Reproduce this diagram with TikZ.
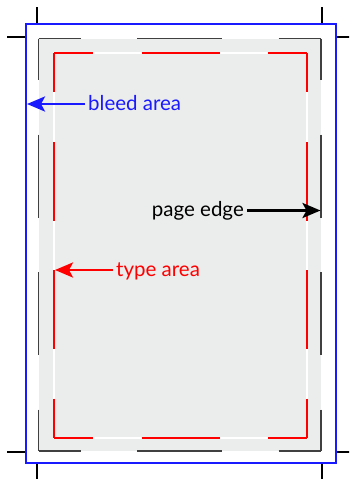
\documentclass[tikz,border=0pt]{standalone}
\usepackage{fontspec}
\setmainfont{Lato}
\usetikzlibrary{arrows.meta}
\definecolor{paper}{HTML}{EBECEC}
\definecolor{bleedblue}{HTML}{1A1AFF}
\tikzset{
  crop/.style={line width=2.5pt},
  edgeline/.style={draw=black!75, line width=1.5pt},
  typeline/.style={draw=red, line width=1.5pt},
  note/.style={font=\fontsize{20.5}{24}\selectfont, inner sep=3pt, text height=15pt, text depth=3pt},
  pointer/.style={line width=2.8pt, -{Stealth[length=18pt,width=15pt,inset=4pt]}}
}
\begin{document}
\begin{tikzpicture}[x=1pt,y=-1pt]
\useasboundingbox (0,0) rectangle (349,479);
\clip (0,0) rectangle (349,479);

% crop marks
\foreach \x in {37,322} {
  \draw[crop] (\x,7) -- (\x,24);
  \draw[crop] (\x,463) -- (\x,484);
}
\foreach \y in {37,452} {
  \draw[crop] (7,\y) -- (26,\y);
  \draw[crop] (336,\y) -- (356,\y);
}

% bleed
\draw[bleedblue, line width=1.5pt] (26,24) rectangle (336,463);

% page
\fill[paper] (38.5,38.5) rectangle (321,451);
\draw[edgeline, dash pattern=on 85pt off 56.25pt, dash phase=42.5pt] (38.5,38.5) -- (321,38.5);
\draw[edgeline, dash pattern=on 85pt off 56.25pt, dash phase=42.5pt] (38.5,451) -- (321,451);
\draw[edgeline, dash pattern=on 83pt off 54.5pt, dash phase=41.5pt] (38.5,38.5) -- (38.5,451);
\draw[edgeline, dash pattern=on 83pt off 54.5pt, dash phase=41.5pt] (321,38.5) -- (321,451);

% type area
\draw[white, line width=1.5pt] (54,53) rectangle (307,438);
\draw[typeline, dash pattern=on 78pt off 48.5pt, dash phase=39pt] (54,53) -- (307,53);
\draw[typeline, dash pattern=on 78pt off 48.5pt, dash phase=39pt] (54,438) -- (307,438);
\draw[typeline, dash pattern=on 78.5pt off 49.8pt, dash phase=39.25pt] (54,53) -- (54,438);
\draw[typeline, dash pattern=on 78.5pt off 49.8pt, dash phase=39.25pt] (307,53) -- (307,438);

% labels
\node[note, text=bleedblue, anchor=west] (bleed) at (85,104) {bleed area};
\coordinate (bleededge) at (27,104);
\draw[pointer, bleedblue] (bleed) -- (bleededge);

\node[note, anchor=east] (edge) at (247,210.5) {page edge};
\coordinate (pageedge) at (320.5,210.5);
\draw[pointer] (edge) -- (pageedge);

\node[note, text=red, anchor=west] (type) at (113,270) {type area};
\coordinate (typeedge) at (55,270);
\draw[pointer, red] (type) -- (typeedge);
\end{tikzpicture}
\end{document}
